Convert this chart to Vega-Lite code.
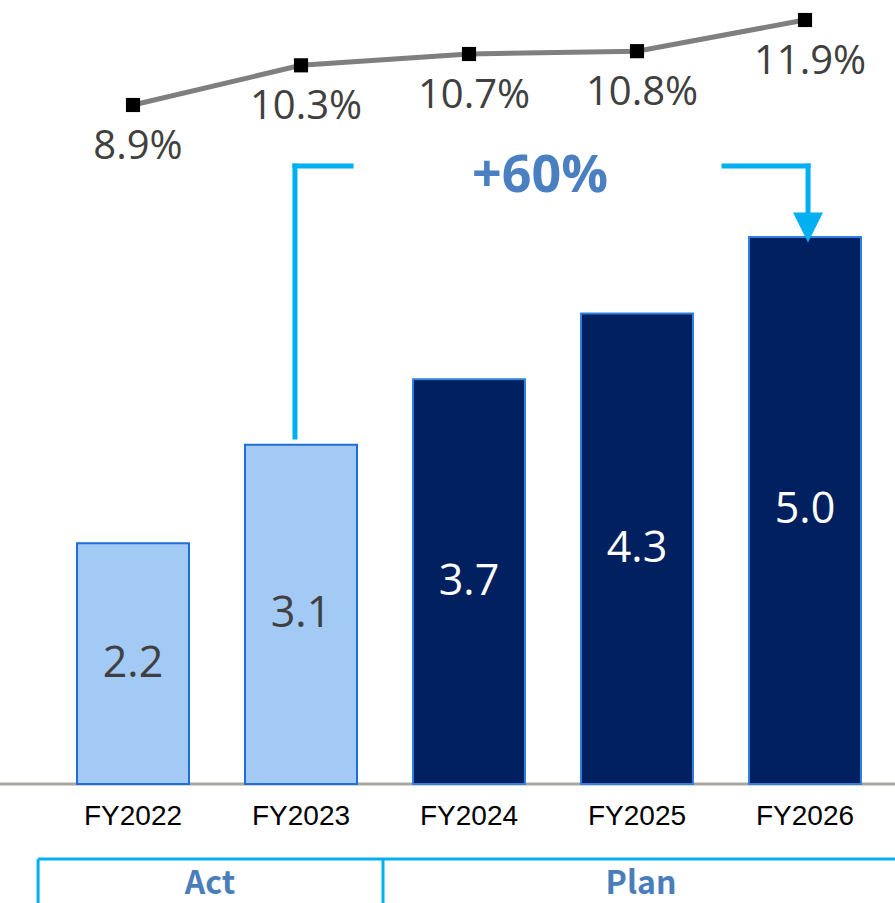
{
  "$schema": "https://vega.github.io/schema/vega-lite/v6.json",
  "width": 895,
  "height": 903,
  "padding": 0,
  "autosize": {"type": "none"},
  "background": "white",
  "config": {"view": {"stroke": null}},
  "datasets": {
    "fy": [
      {"year": 2022, "label": "FY2022", "phase": "Act", "sales": 2.2, "margin": 0.089},
      {"year": 2023, "label": "FY2023", "phase": "Act", "sales": 3.1, "margin": 0.103},
      {"year": 2024, "label": "FY2024", "phase": "Plan", "sales": 3.7, "margin": 0.107},
      {"year": 2025, "label": "FY2025", "phase": "Plan", "sales": 4.3, "margin": 0.108},
      {"year": 2026, "label": "FY2026", "phase": "Plan", "sales": 5.0, "margin": 0.119}
    ],
    "bracket": [
      {"year": 2022.964, "year2": 2022.964, "v": 3.172, "v2": 5.649},
      {"year": 2022.964, "year2": 2023.298, "v": 5.649, "v2": 5.649},
      {"year": 2025.518, "year2": 2026.018, "v": 5.649, "v2": 5.649},
      {"year": 2026.018, "year2": 2026.018, "v": 5.649, "v2": 5.2}
    ],
    "arrow": [{"year": 2026.018, "v": 5.087}],
    "box": [
      {"year": 2021.435, "year2": 2026.536, "v": -0.686, "v2": -0.686},
      {"year": 2021.435, "year2": 2021.435, "v": -0.686, "v2": -1.088},
      {"year": 2023.488, "year2": 2023.488, "v": -0.686, "v2": -1.088}
    ],
    "groups": [
      {"year": 2022.458, "v": -0.915, "text": "Act"},
      {"year": 2025.024, "v": -0.915, "text": "Plan"}
    ],
    "growth": [{"year": 2024.423, "v": 5.558, "text": "+60%"}]
  },
  "layer": [
    {
      "data": {"values": [{}]},
      "mark": {"type": "rule", "color": "#A6AA9E", "strokeWidth": 3},
      "encoding": {
        "y": {"datum": 0, "type": "quantitative", "scale": {"domain": [-1.088, 7.166], "nice": false, "zero": false}, "axis": null}
      }
    },
    {
      "data": {"name": "fy"},
      "mark": {"type": "bar", "size": 112, "strokeWidth": 2},
      "encoding": {
        "x": {"field": "year", "type": "quantitative", "scale": {"domain": [2021.2083, 2026.5357], "nice": false, "zero": false, "padding": 0}, "axis": null},
        "y": {"field": "sales", "type": "quantitative", "scale": {"domain": [-1.088, 7.166], "nice": false, "zero": false}, "axis": null},
        "y2": {"datum": 0},
        "fill": {"field": "phase", "type": "nominal", "scale": {"domain": ["Act", "Plan"], "range": ["#A3C9F5", "#002060"]}, "legend": null},
        "stroke": {"field": "phase", "type": "nominal", "scale": {"domain": ["Act", "Plan"], "range": ["#1F6FDA", "#2F80E0"]}, "legend": null}
      }
    },
    {
      "data": {"name": "fy"},
      "mark": {"type": "text", "font": "Open Sans", "fontSize": 43, "baseline": "middle", "align": "center"},
      "encoding": {
        "x": {"field": "year", "type": "quantitative", "scale": {"domain": [2021.2083, 2026.5357], "nice": false, "zero": false, "padding": 0}, "axis": null},
        "y": {"field": "sales", "type": "quantitative", "scale": {"domain": [-2.176, 14.332], "nice": false, "zero": false}, "axis": null},
        "text": {"field": "sales", "type": "quantitative", "format": ".1f"},
        "color": {"field": "phase", "type": "nominal", "scale": {"domain": ["Act", "Plan"], "range": ["#404040", "#FFFFFF"]}, "legend": null}
      }
    },
    {
      "data": {"name": "fy"},
      "mark": {"type": "text", "font": "Liberation Sans", "fontSize": 28, "baseline": "middle", "align": "center", "color": "#000000"},
      "encoding": {
        "x": {"field": "year", "type": "quantitative", "scale": {"domain": [2021.2083, 2026.5357], "nice": false, "zero": false, "padding": 0}, "axis": null},
        "y": {"datum": -0.302, "type": "quantitative", "scale": {"domain": [-1.088, 7.166], "nice": false, "zero": false}, "axis": null},
        "text": {"field": "label", "type": "nominal"}
      }
    },
    {
      "data": {"name": "fy"},
      "mark": {"type": "line", "color": "#7F7F7F", "strokeWidth": 5},
      "encoding": {
        "x": {"field": "year", "type": "quantitative", "scale": {"domain": [2021.2083, 2026.5357], "nice": false, "zero": false, "padding": 0}, "axis": null},
        "y": {"field": "margin", "type": "quantitative", "scale": {"domain": [-0.19267, 0.12606], "nice": false, "zero": false}, "axis": null}
      }
    },
    {
      "data": {"name": "fy"},
      "mark": {"type": "point", "shape": "square", "size": 200, "filled": true, "color": "#000000", "opacity": 1},
      "encoding": {
        "x": {"field": "year", "type": "quantitative", "scale": {"domain": [2021.2083, 2026.5357], "nice": false, "zero": false, "padding": 0}, "axis": null},
        "y": {"field": "margin", "type": "quantitative", "scale": {"domain": [-0.19267, 0.12606], "nice": false, "zero": false}, "axis": null}
      }
    },
    {
      "data": {"name": "fy"},
      "mark": {"type": "text", "font": "Open Sans", "fontSize": 40, "baseline": "middle", "align": "center", "dy": 42, "dx": 5, "color": "#404040"},
      "encoding": {
        "x": {"field": "year", "type": "quantitative", "scale": {"domain": [2021.2083, 2026.5357], "nice": false, "zero": false, "padding": 0}, "axis": null},
        "y": {"field": "margin", "type": "quantitative", "scale": {"domain": [-0.19267, 0.12606], "nice": false, "zero": false}, "axis": null},
        "text": {"field": "margin", "type": "quantitative", "format": ".1%"}
      }
    },
    {
      "data": {"name": "bracket"},
      "mark": {"type": "rule", "color": "#00B0F0", "strokeWidth": 5, "strokeCap": "square"},
      "encoding": {
        "x": {"field": "year", "type": "quantitative", "scale": {"domain": [2021.2083, 2026.5357], "nice": false, "zero": false, "padding": 0}, "axis": null},
        "x2": {"field": "year2"},
        "y": {"field": "v", "type": "quantitative", "scale": {"domain": [-1.088, 7.166], "nice": false, "zero": false}, "axis": null},
        "y2": {"field": "v2"}
      }
    },
    {
      "data": {"name": "arrow"},
      "mark": {"type": "point", "shape": "M-1,-1L1,-1L0,1Z", "size": 900, "filled": true, "color": "#00B0F0", "opacity": 1},
      "encoding": {
        "x": {"field": "year", "type": "quantitative", "scale": {"domain": [2021.2083, 2026.5357], "nice": false, "zero": false, "padding": 0}, "axis": null},
        "y": {"field": "v", "type": "quantitative", "scale": {"domain": [-1.088, 7.166], "nice": false, "zero": false}, "axis": null}
      }
    },
    {
      "data": {"name": "growth"},
      "mark": {"type": "text", "font": "Open Sans", "fontSize": 52, "fontWeight": "bold", "baseline": "middle", "align": "center", "color": "#4A80C2"},
      "encoding": {
        "x": {"field": "year", "type": "quantitative", "scale": {"domain": [2021.2083, 2026.5357], "nice": false, "zero": false, "padding": 0}, "axis": null},
        "y": {"field": "v", "type": "quantitative", "scale": {"domain": [-1.088, 7.166], "nice": false, "zero": false}, "axis": null},
        "text": {"field": "text", "type": "nominal"}
      }
    },
    {
      "data": {"name": "box"},
      "mark": {"type": "rule", "color": "#00B0F0", "strokeWidth": 3},
      "encoding": {
        "x": {"field": "year", "type": "quantitative", "scale": {"domain": [2021.2083, 2026.5357], "nice": false, "zero": false, "padding": 0}, "axis": null},
        "x2": {"field": "year2"},
        "y": {"field": "v", "type": "quantitative", "scale": {"domain": [-1.088, 7.166], "nice": false, "zero": false}, "axis": null},
        "y2": {"field": "v2"}
      }
    },
    {
      "data": {"name": "groups"},
      "mark": {"type": "text", "font": "Noto Sans CJK JP", "fontSize": 32, "fontWeight": "bold", "baseline": "middle", "align": "center", "color": "#4A7EBB"},
      "encoding": {
        "x": {"field": "year", "type": "quantitative", "scale": {"domain": [2021.2083, 2026.5357], "nice": false, "zero": false, "padding": 0}, "axis": null},
        "y": {"field": "v", "type": "quantitative", "scale": {"domain": [-1.088, 7.166], "nice": false, "zero": false}, "axis": null},
        "text": {"field": "text", "type": "nominal"}
      }
    }
  ],
  "resolve": {"scale": {"y": "independent"}}
}
